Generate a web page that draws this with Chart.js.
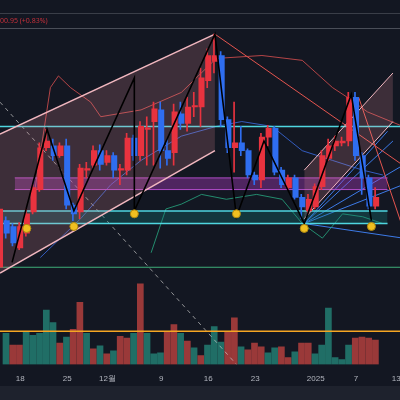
<!DOCTYPE html>
<html><head><meta charset="utf-8">
<script src="https://cdn.jsdelivr.net/npm/chart.js@4"></script>
<style>
html,body{margin:0;padding:0;background:#131722;width:400px;height:400px;overflow:hidden;font-family:"Noto Sans",sans-serif}
#wrap{position:absolute;left:-5px;top:0;width:413px;height:386px}
#bottom{position:absolute;left:0;top:386px;width:400px;height:14px;background:#1e222d}
#hdr{position:absolute;left:0;top:13px;width:400px;height:14px;border-top:1px solid #3a3e48;border-bottom:1px solid #4a4e58;color:#c2303a;font-size:7px;line-height:14px;z-index:2}
</style></head><body>
<div id="wrap"><canvas id="c"></canvas></div>
<div id="hdr">00.95 (+0.83%)</div>
<div id="bottom"></div>
<script>
const opens  =[130,178,172,150,165,187,210,253,255,245,255,194,187,230,235,250,238,245,230,230,263,245,272,280,292,250,248,288,278,295,295,322,342,348,282,253,258,250,225,220,264,273,230,212,222,202,188,192,213,242,255,258,260,305,245,222,193];
const closes =[190,165,155,172,185,212,253,260,245,255,194,185,232,231,250,236,245,230,231,263,245,275,273,293,250,242,290,278,295,296,325,348,348,282,253,258,250,225,220,264,273,228,215,222,202,192,200,213,245,255,260,260,305,245,222,193,202];
const highs  =[200,182,175,176,190,215,258,272,262,258,262,196,236,238,255,256,250,248,236,268,266,280,285,300,300,262,298,300,305,310,335,355,370,352,285,300,275,252,228,268,276,275,233,225,225,205,205,216,250,262,265,264,310,310,248,225,212];
const lows   =[125,160,152,148,162,185,208,250,240,243,190,178,180,222,232,230,235,222,215,225,240,240,235,235,232,235,235,272,270,285,275,315,330,275,248,228,245,222,215,212,255,225,212,210,200,180,185,190,210,240,250,255,255,240,205,190,190];
const volumes=[32,20,20,33,30,32,56,43,22,28,36,64,32,16,19,11,14,29,27,32,83,32,11,12,33,41,32,24,17,9,20,39,23,33,48,18,15,22,18,12,17,18,7,13,22,22,11,20,58,7,5,20,27,28,27,25];
const volUp  =[1,0,0,1,1,1,1,1,0,1,0,0,1,0,1,0,1,0,0,1,0,1,1,1,0,0,1,0,1,0,1,1,1,0,0,1,0,0,0,1,1,0,0,1,0,0,1,1,1,1,1,1,0,0,0,0];
const tickLabels={3:"18",10:"25",16:"12월",24:"9",31:"16",38:"23",47:"2025",53:"7",59:"13"};
// drawings: [day, price]
const chanUpper=[[0,267],[32,370]], chanLower=[[0,124],[32,250]];
const chan2Upper=[[45.3,230],[58.5,330]], chan2Lower=[[45.3,180],[58.5,280]];
const redLine1=[[32,370],[60,235]], redLine2=[[53.4,305],[60,170]];
const dashLine=[[0,300],[35.2,30]];
const zigzag=[[1.8,135],[7,272],[11,188],[20,325],[20,188],[32,370],[35.2,182],[39.3,260],[45.3,175],[52.3,308],[55.3,178]];
const bbUpper=[[5.2,210],[7.5,315],[8.7,327],[10.5,315],[13.5,300],[15,285],[21,292],[27,310],[32.2,345],[39,348],[45,343],[49.5,315],[51.7,305],[54.7,290],[60,275]];
const bbMid=[[6,140],[12,180],[16.5,215],[21,240],[27,265],[32.2,275],[36,280],[40.5,275],[45,250],[49.5,240],[54,230],[57,225]];
const bbLower=[[22.5,145],[24.7,190],[27,195],[30,205],[33.7,200],[38.2,205],[42,200],[45,175],[48,160],[51,185],[54,182],[57,175]];
const levelCyanTop=275, zoneTop=188, zoneBot=175, levelGreen=130, levelOrange=64, purpleTop=222, purpleBot=210;
const fans=[[[45.3,175],[60,215]],[[45.3,175],[60,235]],[[45.3,175],[58.5,260]],[[45.3,175],[57.7,270]],[[45.3,175],[60,160]]];
const smileys=[[4,170],[11,172],[20,185],[35.2,185],[45.3,170],[55.3,172]];

const pts=a=>a.map(p=>({x:p[0],y:p[1]}));
const hline=(v,x0,x1)=>[{x:x0,y:v},{x:x1,y:v}];
const idx=opens.map((_,i)=>i);
const cCol=idx.map(i=>closes[i]>=opens[i]?'#e8333f':'#2f6ef0');
const L=(data,color,extra)=>Object.assign({type:'line',data,borderColor:color,borderWidth:1,pointRadius:0,fill:false,order:3,tension:0},extra||{});
const datasets=[
 {type:'bar',data:volumes.map((v,i)=>({x:i,y:v})),yAxisID:'yv',backgroundColor:volUp.map(u=>u?'rgba(38,140,125,0.75)':'rgba(200,70,65,0.75)'),barThickness:6,order:20},
 L(pts(chanUpper),'#f2b8c0',{borderWidth:1.5}),
 L(pts(chanLower),'#f2b8c0',{borderWidth:1.5,fill:'-1',backgroundColor:'rgba(230,140,150,0.2)'}),
 L(pts(chan2Upper),'#f2b8c0',{}),
 L(pts(chan2Lower),'#f2b8c0',{fill:'-1',backgroundColor:'rgba(230,140,150,0.2)'}),
 L(hline(zoneTop,0,57.7),'#4fd6e0',{borderWidth:1.5}),
 L(hline(zoneBot,0,57.7),'#4fd6e0',{borderWidth:1.5,fill:'-1',backgroundColor:'rgba(20,130,130,0.3)'}),
 L(hline(purpleTop,2.2,57.7),'#b04cc8',{}),
 L(hline(purpleBot,2.2,57.7),'#b04cc8',{fill:'-1',backgroundColor:'rgba(170,60,190,0.4)'}),
 L(hline(levelCyanTop,0,60),'#4fd6e0',{borderWidth:1.5}),
 L(hline(levelGreen,0,60),'#3fae7a',{}),
 L(hline(levelOrange,0,60),'#f5a623',{borderWidth:1.5}),
 L(pts(bbUpper),'rgba(220,80,80,0.8)',{}),
 L(pts(bbMid),'rgba(60,110,230,0.8)',{}),
 L(pts(bbLower),'rgba(40,170,130,0.8)',{}),
 L(pts(redLine1),'#e4554f',{}),
 L(pts(redLine2),'#e4554f',{}),
 L(pts(dashLine),'rgba(200,200,200,0.7)',{borderDash:[4,4]}),
 ...fans.map(f=>L(pts(f),'#3d7be8',{})),
 L(pts(zigzag),'#000000',{borderWidth:1.6,order:1}),
 {type:'bar',data:idx.map(i=>({x:i,y:[lows[i],highs[i]]})),backgroundColor:cCol,barThickness:1,order:2},
 {type:'bar',data:idx.map(i=>({x:i,y:[opens[i],closes[i]]})),backgroundColor:cCol,barThickness:5.4,minBarLength:1.5,order:2},
 {type:'scatter',data:pts(smileys),pointRadius:4,pointBackgroundColor:'#f0c020',pointBorderColor:'#b08a10',order:0}
];
new Chart(document.getElementById('c'),{
 type:'bar',data:{datasets},
 options:{responsive:true,maintainAspectRatio:false,animation:false,
  layout:{padding:0},
  plugins:{legend:{display:false},tooltip:{enabled:false}},
  scales:{
   x:{type:'linear',min:0,max:60,offset:false,grid:{display:false},border:{display:false},
      ticks:{stepSize:1,autoSkip:false,maxRotation:0,color:'#b2b5be',font:{size:8},padding:2,callback:v=>tickLabels[v]||''}},
   y:{min:30,max:400,display:false},
   yv:{min:0,max:370,display:false}
  }}
});
</script></body></html>
